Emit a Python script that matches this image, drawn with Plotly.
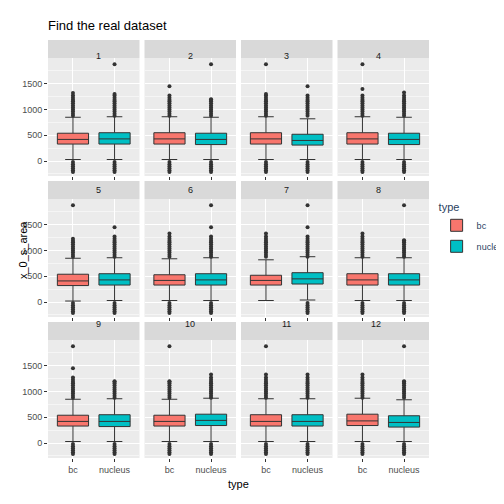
import plotly.graph_objects as go
from plotly.subplots import make_subplots

# approximate box stats, per facet 1..12
facets = [str(i) for i in range(1, 13)]
types = ["bc", "nucleus"]
colors = {"bc": "#F8766D", "nucleus": "#00BFC4"}

q1 = {"bc": [330, 330, 330, 330, 320, 330, 330, 330, 330, 330, 330, 340],
      "nucleus": [330, 320, 310, 320, 330, 330, 350, 330, 320, 340, 330, 310]}
med = {"bc": [420, 430, 430, 430, 410, 420, 420, 430, 420, 420, 420, 430],
       "nucleus": [430, 420, 400, 420, 430, 430, 450, 430, 420, 440, 420, 400]}
q3 = {"bc": [540, 550, 550, 550, 540, 530, 520, 550, 540, 540, 550, 560],
      "nucleus": [550, 540, 520, 540, 550, 550, 570, 550, 550, 560, 550, 530]}
lofence = {"bc": [30, 30, 30, 30, 20, 30, 30, 30, 30, 30, 30, 30],
           "nucleus": [30, 30, 30, 30, 30, 30, 40, 30, 30, 30, 30, 30]}
hifence = {"bc": [850, 860, 860, 860, 850, 840, 820, 860, 850, 850, 860, 870],
           "nucleus": [860, 850, 820, 850, 860, 860, 880, 860, 860, 870, 860, 840]}
# highest value of the dense outlier strip, and a lone extreme point (None if absent)
strip_top = {"bc": [1320, 1450, 1300, 1400, 1230, 1330, 1330, 1330, 1450, 1200, 1330, 1330],
             "nucleus": [1300, 1200, 1450, 1330, 1450, 1450, 1450, 1200, 1200, 1330, 1330, 1200]}
extreme = {"bc": [None, None, 1880, 1880, 1880, None, None, None, 1880, 1880, 1880, None],
           "nucleus": [1880, 1880, None, None, None, 1880, 1880, 1880, None, None, None, 1880]}
upper_outliers = [880, 920, 960, 1000, 1040, 1080, 1120, 1160, 1190, 1230, 1270]
lower_outliers = [-20, -60, -100, -140, -180, -210]
no_low = {("bc", "7")}

fig = make_subplots(rows=3, cols=4)

W, H = 504, 504
ml, mr, mt, mb = 40, 83, 32, 52
pw = (W - ml - mr - 3 * 5) / 4
strip, panel, gap = 18, 118, 5
ph_total = H - mt - mb

for i, f in enumerate(facets):
    r, c = i // 4, i % 4
    x0 = (c * (pw + 5)) / (W - ml - mr)
    x1 = (c * (pw + 5) + pw) / (W - ml - mr)
    top = r * (strip + panel + gap)
    y1 = 1 - (top + strip) / ph_total
    y0 = 1 - (top + strip + panel) / ph_total
    ys = 1 - top / ph_total
    k = i + 1
    xa = "xaxis" if k == 1 else f"xaxis{k}"
    ya = "yaxis" if k == 1 else f"yaxis{k}"
    fig.layout[xa].domain = [x0, x1]
    fig.layout[ya].domain = [y0, y1]
    fig.add_shape(type="rect", xref="paper", yref="paper", x0=x0, x1=x1, y0=y1, y1=ys,
                  fillcolor="#D9D9D9", line_width=0, layer="below")
    fig.add_annotation(text=f, xref="paper", yref="paper", x=(x0 + x1) / 2, y=(y1 + ys) / 2,
                       showarrow=False, font=dict(size=9, color="#1A1A1A"))
    for t in types:
        fig.add_trace(go.Box(x=[t], q1=[q1[t][i]], median=[med[t][i]], q3=[q3[t][i]],
                             lowerfence=[lofence[t][i]], upperfence=[hifence[t][i]],
                             fillcolor=colors[t], line=dict(color="#333333", width=1),
                             name=t, legendgroup=t, showlegend=(i == 0), boxpoints=False,
                             width=0.75),
                      row=r + 1, col=c + 1)
        pts = [v for v in upper_outliers if v < strip_top[t][i]] + [strip_top[t][i]]
        if extreme[t][i] is not None:
            pts.append(extreme[t][i])
        if (t, f) not in no_low:
            pts += lower_outliers
        fig.add_trace(go.Scatter(x=[t] * len(pts), y=pts, mode="markers",
                                 marker=dict(color="#333333", size=4), showlegend=False,
                                 hoverinfo="skip"),
                      row=r + 1, col=c + 1)

fig.update_xaxes(categoryorder="array", categoryarray=types, showgrid=True, gridcolor="white",
                 gridwidth=1.2, zeroline=False, tickfont=dict(size=9, color="#4D4D4D"),
                 ticks="outside", ticklen=3, tickcolor="#333333", range=[-0.6, 1.6],
                 automargin=False)
fig.update_yaxes(range=[-290, 2000], tickvals=[0, 500, 1000, 1500], showgrid=True,
                 gridcolor="white", gridwidth=1.2, zeroline=False,
                 minor=dict(tickvals=[-250, 250, 750, 1250, 1750], showgrid=True,
                            gridcolor="#F5F5F5", gridwidth=0.6),
                 tickfont=dict(size=9, color="#4D4D4D"), ticks="outside", ticklen=3,
                 tickcolor="#333333", automargin=False)
for k in range(1, 13):
    r, c = (k - 1) // 4, (k - 1) % 4
    if r < 2:
        fig.layout["xaxis" if k == 1 else f"xaxis{k}"].showticklabels = False
    if c > 0:
        fig.layout["yaxis" if k == 1 else f"yaxis{k}"].showticklabels = False
        fig.layout["yaxis" if k == 1 else f"yaxis{k}"].ticks = ""

fig.add_annotation(text="type", xref="paper", yref="paper", x=0.5, y=0, yshift=-32,
                   showarrow=False, font=dict(size=11, color="black"))
fig.add_annotation(text="x_0_s_area", xref="paper", yref="paper", x=0, xshift=-33, y=0.5,
                   textangle=-90, showarrow=False, font=dict(size=11, color="black"))

fig.update_layout(
    width=W, height=H, margin=dict(l=ml, r=mr, t=mt, b=mb, autoexpand=False),
    title=dict(text="Find the real dataset", x=ml / W, xref="container", y=0.975,
               yref="container", yanchor="top", automargin=False,
               font=dict(size=13, color="black")),
    plot_bgcolor="#EBEBEB", paper_bgcolor="white", boxmode="overlay",
    font=dict(family="Liberation Sans, Arial"),
    legend=dict(title=dict(text="type", font=dict(size=11)), x=1.02, y=0.55, yanchor="middle",
                font=dict(size=9), tracegroupgap=2),
)

fig.write_html("out.html")
